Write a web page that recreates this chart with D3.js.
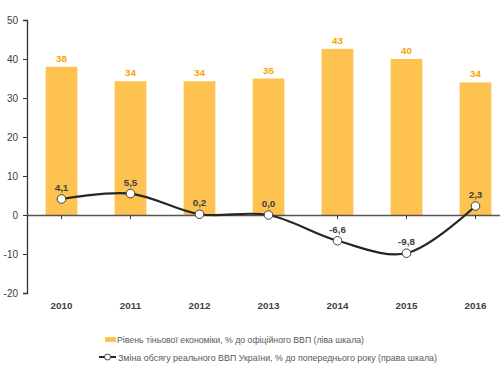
<!DOCTYPE html>
<html><head><meta charset="utf-8">
<script src="https://cdn.jsdelivr.net/npm/d3@7"></script>
<style>body{margin:0;background:#fff}svg{display:block}text{font-family:"Liberation Sans",Arial,sans-serif}</style>
</head><body><svg id="c" width="500" height="380"></svg>
<script>
const years = ["2010","2011","2012","2013","2014","2015","2016"];
const shadow = [38, 34.3, 34.3, 35, 42.6, 40, 34];
const shadowLabels = ["38","34","34","35","43","40","34"];
const gdp = [4.1, 5.5, 0.2, 0.0, -6.6, -9.8, 2.3];
const yTicks = [-20,-10,0,10,20,30,40,50];
const legendTexts = ["Рівень тіньової економіки, % до офіційного ВВП (ліва шкала)",
  "Зміна обсягу реального ВВП України, % до попереднього року (права шкала)"];

const svg = d3.select("#c");
const x = d3.scaleBand().domain(years).range([27, 510]).paddingInner(0.54).paddingOuter(0.27);
const y = d3.scaleLinear().domain([-20, 50]).range([293, 20]);
const barColor = "#FDC24F";
const fs = 9.8;

// bars
svg.append("g").selectAll("rect").data(years).join("rect")
  .attr("x", d => x(d)).attr("width", x.bandwidth())
  .attr("y", (d,i) => y(shadow[i])).attr("height", (d,i) => y(0) - y(shadow[i]))
  .attr("fill", barColor);

svg.append("g").selectAll("text").data(years).join("text")
  .attr("x", d => x(d) + x.bandwidth()/2).attr("y", (d,i) => y(shadow[i]) - 5)
  .attr("text-anchor","middle").attr("font-size", fs).attr("font-weight","bold")
  .attr("fill","#F5A300").text((d,i) => shadowLabels[i]);

// y axis
const ya = svg.append("g").attr("transform","translate(27,0)")
  .call(d3.axisLeft(y).tickValues(yTicks).tickSize(4).tickPadding(5).tickFormat(d => String(d)));
ya.select(".domain").attr("stroke","#333").attr("stroke-width",1.3);
ya.selectAll(".tick line").attr("stroke","#333");
ya.selectAll(".tick text").attr("font-size",10).attr("fill","#404040").style("font-family","Liberation Sans, Arial, sans-serif");

// x axis at 0
const xa = svg.append("g").attr("transform",`translate(0,${y(0)})`)
  .call(d3.axisBottom(x).tickSize(4).tickSizeOuter(0).tickFormat(""));
xa.select(".domain").attr("stroke","#555").attr("stroke-width",1.3);
xa.selectAll(".tick line").attr("stroke","#333");

// year labels
svg.append("g").selectAll("text").data(years).join("text")
  .attr("x", d => x(d) + x.bandwidth()/2).attr("y", 309)
  .attr("text-anchor","middle").attr("font-size",fs).attr("font-weight","bold")
  .attr("fill","#404040").text(d => d);

// line
const line = d3.line().x((d,i) => x(years[i]) + x.bandwidth()/2).y(d => y(d)).curve(d3.curveCatmullRom.alpha(0.5));
svg.append("path").datum(gdp).attr("d", line).attr("fill","none").attr("stroke","#262626").attr("stroke-width",2.2);
svg.append("g").selectAll("circle").data(gdp).join("circle")
  .attr("cx", (d,i) => x(years[i]) + x.bandwidth()/2).attr("cy", d => y(d)).attr("r",4.3)
  .attr("fill","#fff").attr("stroke","#404040").attr("stroke-width",1);
svg.append("g").selectAll("text").data(gdp).join("text")
  .attr("x", (d,i) => x(years[i]) + x.bandwidth()/2).attr("y", d => y(d) - 8)
  .attr("text-anchor","middle").attr("font-size",fs).attr("font-weight","bold")
  .attr("fill","#404040").text(d => d.toFixed(1).replace(".", ","));

// legend
const lg = svg.append("g");
lg.append("rect").attr("x",105).attr("y",337).attr("width",11).attr("height",5).attr("fill",barColor);
lg.append("text").attr("x",117).attr("y",343).attr("font-size",9.6).attr("fill","#595959")
  .attr("textLength",247).attr("lengthAdjust","spacingAndGlyphs").text(legendTexts[0]);
lg.append("line").attr("x1",99).attr("x2",116).attr("y1",357).attr("y2",357).attr("stroke","#262626").attr("stroke-width",2);
lg.append("circle").attr("cx",107.5).attr("cy",357).attr("r",3).attr("fill","#fff").attr("stroke","#404040");
lg.append("text").attr("x",118).attr("y",361).attr("font-size",9.6).attr("fill","#595959")
  .attr("textLength",319).attr("lengthAdjust","spacingAndGlyphs").text(legendTexts[1]);
</script></body></html>
